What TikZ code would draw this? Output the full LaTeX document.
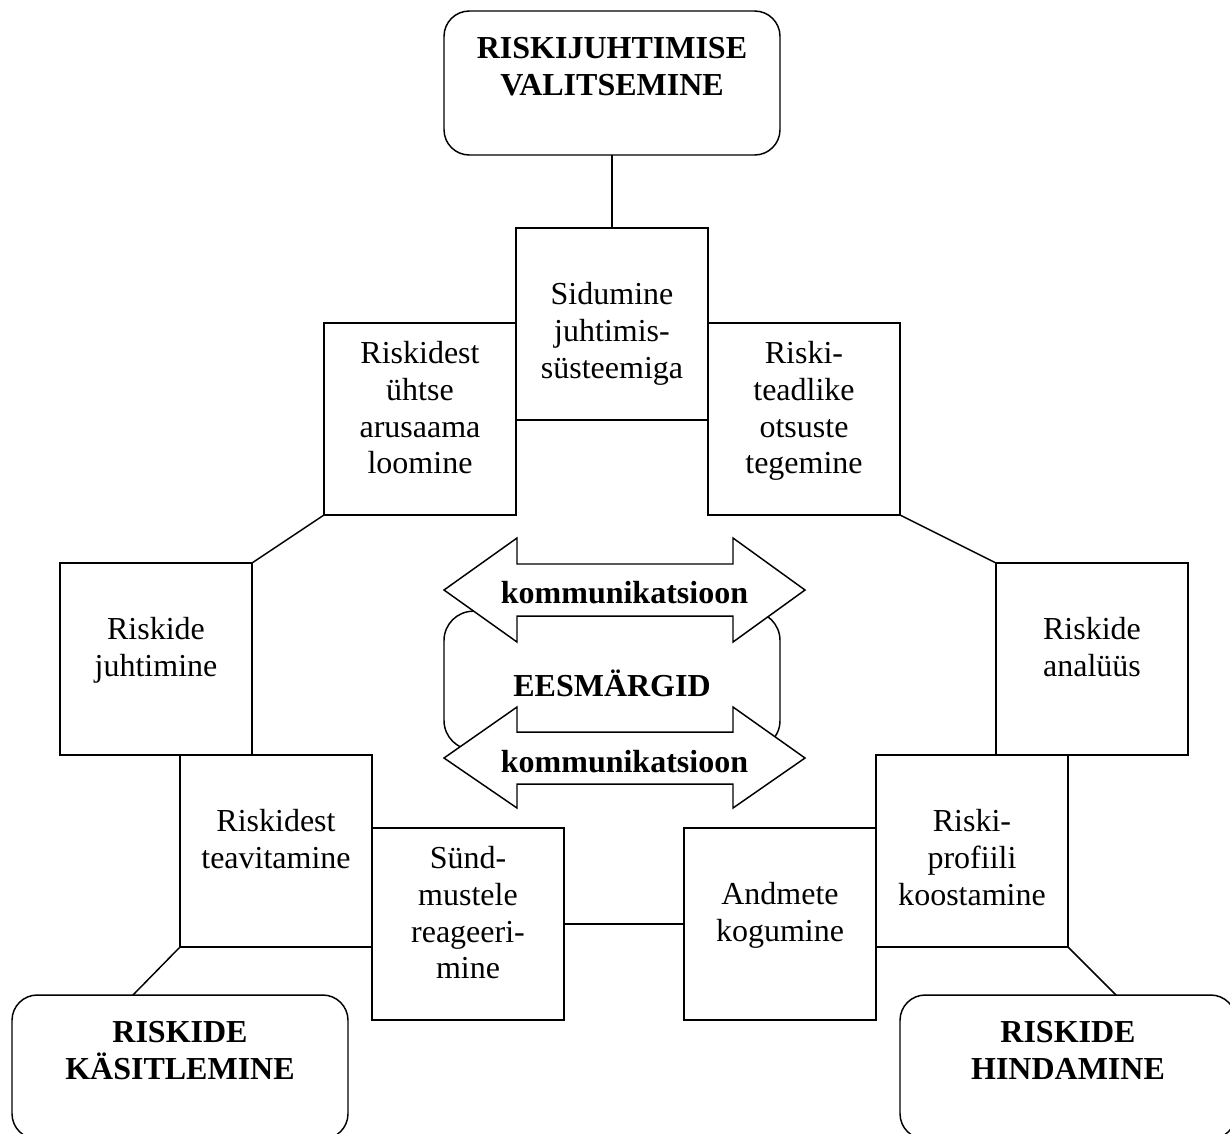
\documentclass[tikz,border=0pt]{standalone}
\usepackage{fontspec}
\setmainfont{Liberation Serif}
\newcommand\mystrut{\rule{0pt}{22pt}}
\begin{document}
\begin{tikzpicture}[x=0.75pt,y=-0.75pt, line width=1.1pt,
  box/.style={draw, rectangle, minimum width=144pt, minimum height=144pt, inner sep=0pt, outer sep=0pt},
  rbox/.style={draw, rectangle, rounded corners=19pt, minimum width=252pt, minimum height=108pt, inner sep=0pt, outer sep=0pt},
  lbl/.style={anchor=north, inner sep=0pt, align=center, font=\fontsize{24pt}{27.5pt}\selectfont},
  blbl/.style={anchor=north, inner sep=0pt, align=center, font=\fontsize{24pt}{27.5pt}\selectfont\bfseries},
  btxt/.style={anchor=base, inner sep=0pt, font=\fontsize{24pt}{27.5pt}\selectfont\bfseries},
  arr/.style={draw, fill=white, line join=miter}]
\useasboundingbox (0,0) rectangle (1230,1133);
\clip (0,0) rectangle (1230,1133);

% rounded header boxes
\node[rbox] (top) at (612,83) {};
\node[rbox] (kas) at (180,1067) {};
\node[rbox] (hind) at (1068,1067) {};
\node[blbl] (topT) at ([yshift=-13.25pt]top.north) {\mystrut RISKIJUHTIMISE\\VALITSEMINE};
\node[blbl] (kasT) at ([yshift=-13.25pt]kas.north) {\mystrut RISKIDE\\KÄSITLEMINE};
\node[blbl] (hindT) at ([yshift=-13.25pt]hind.north) {\mystrut RISKIDE\\HINDAMINE};

% square boxes
\node[box] (sid) at (612,324) {};
\node[box] (uht) at (420,419) {};
\node[box] (tead) at (804,419) {};
\node[box] (juht) at (156,659) {};
\node[box] (anal) at (1092,659) {};
\node[box] (teav) at (276,851) {};
\node[box] (synd) at (468,924) {};
\node[box] (andm) at (780,924) {};
\node[box] (prof) at (972,851) {};

\node[lbl] (sidT) at ([yshift=-35pt]sid.north) {\mystrut Sidumine\\juhtimis-\\süsteemiga};
\node[lbl] (uhtT) at ([yshift=-8pt]uht.north) {\mystrut Riskidest\\ühtse\\arusaama\\loomine};
\node[lbl] (teadT) at ([yshift=-8pt]tead.north) {\mystrut Riski-\\teadlike\\otsuste\\tegemine};
\node[lbl] (juhtT) at ([yshift=-35pt]juht.north) {\mystrut Riskide\\juhtimine};
\node[lbl] (analT) at ([yshift=-35pt]anal.north) {\mystrut Riskide\\analüüs};
\node[lbl] (teavT) at ([yshift=-35pt]teav.north) {\mystrut Riskidest\\teavitamine};
\node[lbl] (syndT) at ([yshift=-8pt]synd.north) {\mystrut Sünd-\\mustele\\reageeri-\\mine};
\node[lbl] (andmT) at ([yshift=-35pt]andm.north) {\mystrut Andmete\\kogumine};
\node[lbl] (profT) at ([yshift=-35pt]prof.north) {\mystrut Riski-\\profiili\\koostamine};

% connectors
\coordinate (kasJ) at (133,995);
\coordinate (hindJ) at (1116,995);
\draw (top.south) -- (sid.north);
\draw (uht.south west) -- (juht.north east);
\draw (tead.south east) -- (anal.north west);
\draw (teav.south west) -- (kasJ);
\draw (prof.south east) -- (hindJ);
\draw (synd.east) -- (andm.west);

% centre
\node[draw, rectangle, rounded corners=22pt, minimum width=252pt, minimum height=104pt, inner sep=0pt] (ees) at (612,680.5) {};
\draw[arr] (444,590) -- (517,538) -- (517,564) -- (733,564) -- (733,538) -- (805,590)
  -- (733,642) -- (733,616) -- (517,616) -- (517,642) -- cycle;
\draw[arr] (444,758) -- (517,707) -- (517,732) -- (733,732) -- (733,707) -- (805,758)
  -- (733,808) -- (733,784) -- (517,784) -- (517,808) -- cycle;
\node[btxt] (eesT) at (612,696) {EESMÄRGID};
\node[btxt] (kom1) at (624.5,603) {kommunikatsioon};
\node[btxt] (kom2) at (624.5,772) {kommunikatsioon};
\end{tikzpicture}
\end{document}
